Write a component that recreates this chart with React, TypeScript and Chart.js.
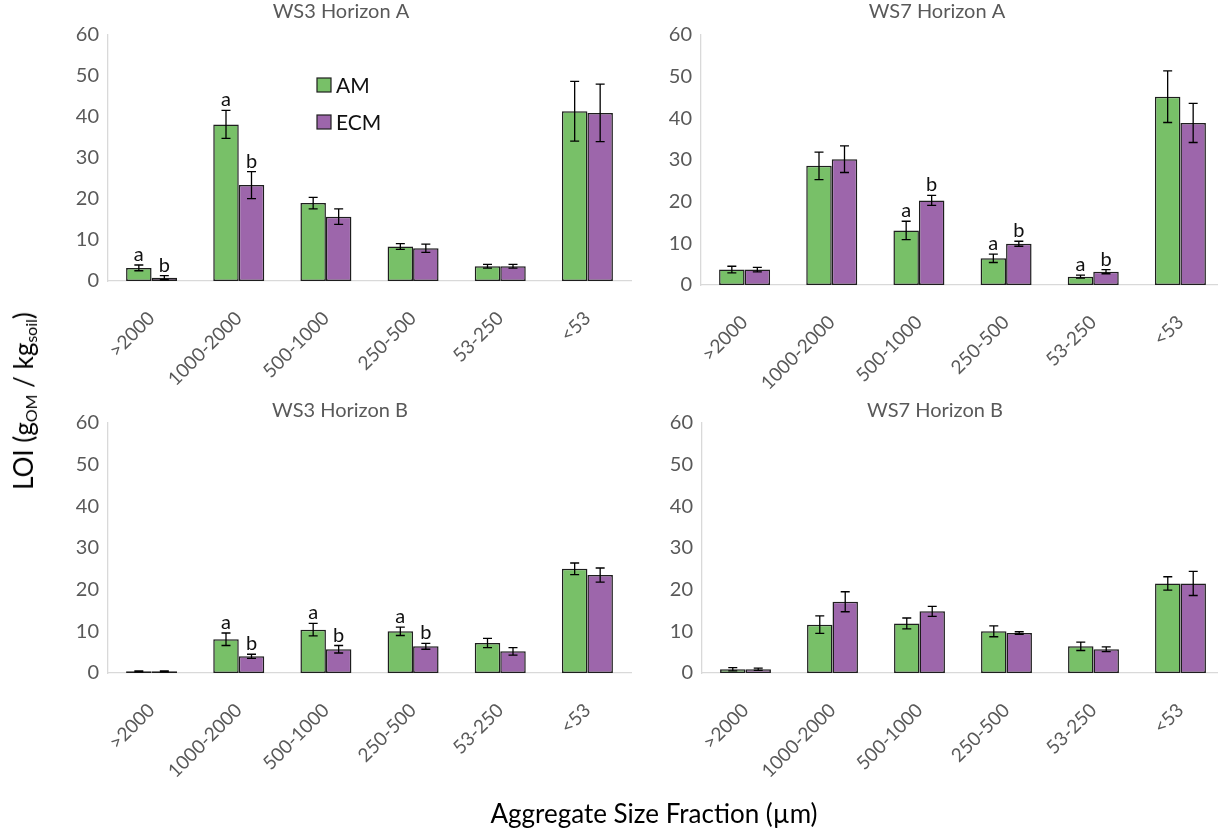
import React, { useEffect, useRef } from "react";
import { Chart, registerables } from "chart.js";

Chart.register(...registerables);

// ---------- data ----------
const categories = [">2000", "1000-2000", "500-1000", "250-500", "53-250", "<53"];
const seriesNames = ["AM", "ECM"];
const yMin = 0;
const yMax = 60;
const yStep = 10;

const ws3A_AM = [3.2, 38.2, 19.0, 8.4, 3.6, 41.4];
const ws3A_AM_err = [0.7, 3.4, 1.4, 0.7, 0.45, 7.3];
const ws3A_ECM = [0.8, 23.4, 15.7, 8.0, 3.6, 41.0];
const ws3A_ECM_err = [0.5, 3.3, 1.9, 1.0, 0.45, 7.0];
const ws3A_AM_letters = ["a", "a", "", "", "", ""];
const ws3A_ECM_letters = ["b", "b", "", "", "", ""];

const ws7A_AM = [3.7, 28.6, 13.1, 6.4, 2.0, 45.2];
const ws7A_AM_err = [0.8, 3.3, 2.2, 1.0, 0.35, 6.2];
const ws7A_ECM = [3.7, 30.2, 20.3, 9.9, 3.2, 38.9];
const ws7A_ECM_err = [0.55, 3.2, 1.2, 0.6, 0.5, 4.7];
const ws7A_AM_letters = ["", "", "a", "a", "a", ""];
const ws7A_ECM_letters = ["", "", "b", "b", "b", ""];

const ws3B_AM = [0.4, 8.1, 10.4, 10.0, 7.2, 25.0];
const ws3B_AM_err = [0.1, 1.5, 1.5, 1.0, 1.1, 1.4];
const ws3B_ECM = [0.4, 4.0, 5.7, 6.4, 5.2, 23.5];
const ws3B_ECM_err = [0.1, 0.5, 0.9, 0.7, 0.9, 1.7];
const ws3B_AM_letters = ["", "a", "a", "a", "", ""];
const ws3B_ECM_letters = ["", "b", "b", "b", "", ""];

const ws7B_AM = [0.9, 11.6, 11.9, 10.0, 6.4, 21.5];
const ws7B_AM_err = [0.4, 2.1, 1.3, 1.3, 1.0, 1.6];
const ws7B_ECM = [0.9, 17.1, 14.8, 9.6, 5.7, 21.5];
const ws7B_ECM_err = [0.25, 2.4, 1.2, 0.3, 0.55, 2.9];
const ws7B_AM_letters = ["", "", "", "", "", ""];
const ws7B_ECM_letters = ["", "", "", "", "", ""];

// ---------- styles ----------
const COLORS = ["#78C068", "#9D66AB"];
const BORDER = "#1e1e1e";
const FONT = "Lato, 'Open Sans', sans-serif";
const TICK_COLOR = "#595959";
const AXIS_COLOR = "#D9D9D9";

type PanelDef = {
  title: string;
  am: number[];
  amErr: number[];
  ecm: number[];
  ecmErr: number[];
  amLetters: string[];
  ecmLetters: string[];
  left: number;
  top: number;
  width: number;
  height: number;
  yW: number;
  xH: number;
  padTop: number;
  padRight: number;
  titleX: number;
  titleY: number;
  legend: boolean;
};

const panels: PanelDef[] = [
  {
    title: "WS3 Horizon A", am: ws3A_AM, amErr: ws3A_AM_err, ecm: ws3A_ECM, ecmErr: ws3A_ECM_err,
    amLetters: ws3A_AM_letters, ecmLetters: ws3A_ECM_letters,
    left: 0, top: 0, width: 640, height: 400, yW: 108, xH: 119, padTop: 35, padRight: 9,
    titleX: 341, titleY: 12, legend: true,
  },
  {
    title: "WS7 Horizon A", am: ws7A_AM, amErr: ws7A_AM_err, ecm: ws7A_ECM, ecmErr: ws7A_ECM_err,
    amLetters: ws7A_AM_letters, ecmLetters: ws7A_ECM_letters,
    left: 620, top: 0, width: 610, height: 400, yW: 81, xH: 115, padTop: 35, padRight: 6,
    titleX: 937, titleY: 12, legend: false,
  },
  {
    title: "WS3 Horizon B", am: ws3B_AM, amErr: ws3B_AM_err, ecm: ws3B_ECM, ecmErr: ws3B_ECM_err,
    amLetters: ws3B_AM_letters, ecmLetters: ws3B_ECM_letters,
    left: 0, top: 400, width: 640, height: 430, yW: 108, xH: 157, padTop: 23, padRight: 9,
    titleX: 340, titleY: 411, legend: false,
  },
  {
    title: "WS7 Horizon B", am: ws7B_AM, amErr: ws7B_AM_err, ecm: ws7B_ECM, ecmErr: ws7B_ECM_err,
    amLetters: ws7B_AM_letters, ecmLetters: ws7B_ECM_letters,
    left: 620, top: 400, width: 610, height: 430, yW: 82, xH: 157, padTop: 23, padRight: 6,
    titleX: 935, titleY: 411, legend: false,
  },
];

function Panel({ p }: { p: PanelDef }) {
  const ref = useRef<HTMLCanvasElement | null>(null);

  useEffect(() => {
    const canvas = ref.current;
    if (!canvas) return;
    const errs = [p.amErr, p.ecmErr];
    const letters = [p.amLetters, p.ecmLetters];

    const overlay = {
      id: "overlay" + p.title.replace(/\s/g, ""),
      afterDatasetsDraw(chart: any) {
        const ctx = chart.ctx;
        const ys = chart.scales.y;
        chart.data.datasets.forEach((ds: any, di: number) => {
          const meta = chart.getDatasetMeta(di);
          meta.data.forEach((bar: any, i: number) => {
            const v = ds.data[i] as number;
            const e = errs[di][i];
            const x = bar.x;
            const yTop = ys.getPixelForValue(v + e);
            const yBot = ys.getPixelForValue(Math.max(v - e, 0));
            ctx.save();
            ctx.strokeStyle = "#000";
            ctx.lineWidth = 1.3;
            ctx.beginPath();
            ctx.moveTo(x, yTop);
            ctx.lineTo(x, yBot);
            ctx.moveTo(x - 4.5, yTop);
            ctx.lineTo(x + 4.5, yTop);
            ctx.moveTo(x - 4.5, yBot);
            ctx.lineTo(x + 4.5, yBot);
            ctx.stroke();
            const L = letters[di][i];
            if (L) {
              ctx.font = `20px ${FONT}`;
              ctx.fillStyle = "#111";
              ctx.textAlign = "center";
              ctx.textBaseline = "alphabetic";
              ctx.fillText(L, x, yTop - 4);
            }
            ctx.restore();
          });
        });
      },
      afterDraw(chart: any) {
        const ctx = chart.ctx;
        ctx.save();
        ctx.font = `20px ${FONT}`;
        ctx.fillStyle = TICK_COLOR;
        ctx.textAlign = "center";
        ctx.textBaseline = "middle";
        ctx.fillText(p.title, p.titleX - p.left, p.titleY - p.top);
        if (p.legend) {
          const rows = [78, 115];
          seriesNames.forEach((name, k) => {
            const sx = 317 - p.left;
            const sy = rows[k] - p.top;
            ctx.fillStyle = COLORS[k];
            ctx.fillRect(sx, sy, 14, 14);
            ctx.strokeStyle = BORDER;
            ctx.lineWidth = 1.2;
            ctx.strokeRect(sx, sy, 14, 14);
            ctx.fillStyle = "#111";
            ctx.textAlign = "left";
            ctx.font = `21px ${FONT}`;
            ctx.fillText(name, 336 - p.left, sy + 8);
          });
        }
        ctx.restore();
      },
    };

    const chart = new Chart(canvas, {
      type: "bar",
      data: {
        labels: categories,
        datasets: [
          {
            label: seriesNames[0],
            data: p.am,
            backgroundColor: COLORS[0],
            borderColor: BORDER,
            borderWidth: 1.5,
            borderSkipped: false,
          },
          {
            label: seriesNames[1],
            data: p.ecm,
            backgroundColor: COLORS[1],
            borderColor: BORDER,
            borderWidth: 1.5,
            borderSkipped: false,
          },
        ],
      },
      options: {
        responsive: false,
        animation: false,
        devicePixelRatio: 1,
        layout: { padding: { top: p.padTop, right: p.padRight, left: 0, bottom: 0 } },
        datasets: { bar: { categoryPercentage: 0.585, barPercentage: 1.0 } },
        plugins: {
          legend: { display: false },
          title: { display: false },
          tooltip: { enabled: false },
        },
        scales: {
          x: {
            type: "category",
            offset: true,
            grid: { display: false, drawTicks: false },
            border: { display: true, color: AXIS_COLOR, width: 1.3 },
            ticks: {
              autoSkip: false,
              minRotation: 45,
              maxRotation: 45,
              padding: 26,
              color: TICK_COLOR,
              font: { family: FONT, size: 19 },
            },
            afterFit: (s: any) => {
              s.height = p.xH;
            },
          },
          y: {
            min: yMin,
            max: yMax,
            grid: { display: false, drawTicks: false },
            border: { display: true, color: AXIS_COLOR, width: 1.3 },
            ticks: {
              stepSize: yStep,
              padding: 9,
              color: TICK_COLOR,
              font: { family: FONT, size: 20 },
            },
            afterFit: (s: any) => {
              s.width = p.yW;
            },
          },
        },
      },
      plugins: [overlay],
    });

    return () => chart.destroy();
  }, [p]);

  return (
    <canvas
      ref={ref}
      width={p.width}
      height={p.height}
      style={{ position: "absolute", left: p.left, top: p.top, width: p.width, height: p.height }}
    />
  );
}

export default function App() {
  return (
    <div
      style={{
        position: "absolute",
        left: 0,
        top: 0,
        width: 1218,
        height: 830,
        overflow: "hidden",
        background: "#fff",
        fontFamily: FONT,
      }}
    >
      {panels.map((p) => (
        <Panel key={p.title} p={p} />
      ))}
      <div
        style={{
          position: "absolute",
          left: 27,
          top: 401,
          transform: "translate(-50%, -50%) rotate(-90deg)",
          whiteSpace: "nowrap",
          fontSize: 26,
          color: "#000",
          lineHeight: "30px",
        }}
      >
        LOI (g<span style={{ fontSize: 16, verticalAlign: "-4px" }}>OM</span> / kg
        <span style={{ fontSize: 16, verticalAlign: "-4px" }}>soil</span>)
      </div>
      <div
        style={{
          position: "absolute",
          left: 654,
          top: 813,
          transform: "translate(-50%, -50%)",
          whiteSpace: "nowrap",
          fontSize: 26,
          color: "#000",
          lineHeight: "30px",
        }}
      >
        Aggregate Size Fraction (µm)
      </div>
    </div>
  );
}
